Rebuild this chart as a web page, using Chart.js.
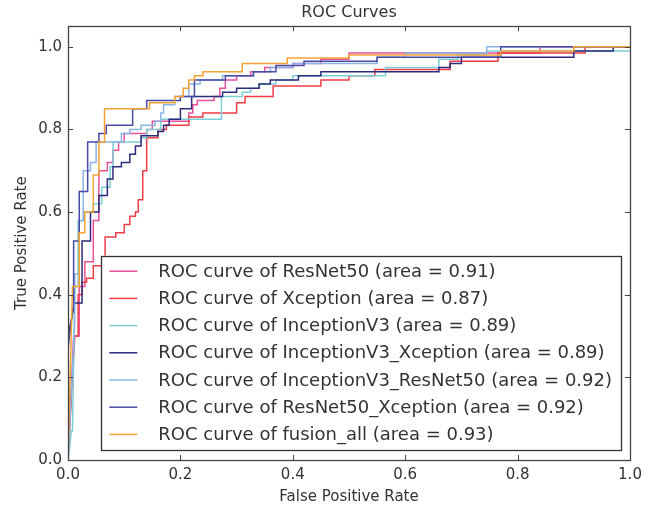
<!DOCTYPE html>
<html>
<head>
<meta charset="utf-8">
<script src="https://cdn.jsdelivr.net/npm/chart.js@4.4.1/dist/chart.umd.min.js"></script>
<style>
  html, body { margin: 0; padding: 0; background: #fff; }
  #wrap { width: 654px; height: 506px; }
</style>
</head>
<body>
<div id="wrap"><canvas id="rocChart" width="654" height="506"></canvas></div>
<script>
// tick labels
const xTicks = [0, 0.2, 0.4, 0.6, 0.8, 1.0];
const yTicks = [0, 0.2, 0.4, 0.6, 0.8, 1.0];

const modelNames = ["ResNet50", "Xception", "InceptionV3", "InceptionV3_Xception",
  "InceptionV3_ResNet50", "ResNet50_Xception", "fusion_all"];
const modelAreas = [0.91, 0.87, 0.89, 0.89, 0.92, 0.92, 0.93];

// ROC points (corners of the step curves)
const resnet50Fpr = [0,0.01,0.02,0.02,0.03,0.03,0.045,0.045,0.055,0.055,0.07,0.07,0.08,0.08,0.09,0.09,0.1,0.1,0.14,0.14,0.15,0.15,0.215,0.215,0.222,0.222,0.23,0.23,0.26,0.26,0.27,0.27,0.28,0.28,0.3,0.3,0.325,0.325,0.35,0.35,0.4,0.4,0.45,0.45,0.5,0.5,0.84,0.84,1];
const resnet50Tpr = [0,0.3,0.3,0.42,0.42,0.48,0.48,0.58,0.58,0.7,0.7,0.72,0.72,0.75,0.75,0.77,0.77,0.79,0.79,0.8,0.8,0.82,0.82,0.84,0.84,0.86,0.86,0.87,0.87,0.88,0.88,0.9,0.9,0.92,0.92,0.93,0.93,0.94,0.94,0.95,0.95,0.96,0.96,0.97,0.97,0.985,0.985,1,1];

const xceptionFpr = [0,0.012,0.018,0.018,0.025,0.025,0.033,0.033,0.045,0.045,0.066,0.066,0.085,0.085,0.1,0.1,0.11,0.11,0.12,0.12,0.125,0.125,0.133,0.133,0.14,0.14,0.16,0.16,0.175,0.175,0.215,0.215,0.24,0.24,0.3,0.3,0.315,0.315,0.365,0.365,0.45,0.45,0.5,0.5,0.546,0.546,0.68,0.68,0.765,0.765,0.92,0.92,1];
const xceptionTpr = [0,0.3,0.3,0.4,0.4,0.43,0.43,0.44,0.44,0.47,0.47,0.54,0.54,0.55,0.55,0.57,0.57,0.59,0.59,0.6,0.6,0.63,0.63,0.7,0.7,0.78,0.78,0.8,0.8,0.81,0.81,0.83,0.83,0.84,0.84,0.865,0.865,0.88,0.88,0.905,0.905,0.92,0.92,0.93,0.93,0.945,0.945,0.965,0.965,0.985,0.985,1,1];

const inceptionFpr = [0,0.006,0.008,0.012,0.018,0.018,0.028,0.028,0.045,0.045,0.06,0.06,0.075,0.075,0.08,0.08,0.13,0.13,0.14,0.14,0.165,0.165,0.273,0.273,0.31,0.31,0.325,0.325,0.34,0.34,0.37,0.37,0.4,0.4,0.565,0.565,0.66,0.66,0.694,0.694,0.745,0.745,1];
const inceptionTpr = [0,0.07,0.07,0.42,0.42,0.58,0.58,0.6,0.6,0.62,0.62,0.66,0.66,0.71,0.71,0.77,0.77,0.78,0.78,0.8,0.8,0.825,0.825,0.88,0.88,0.89,0.89,0.9,0.9,0.91,0.91,0.92,0.92,0.93,0.93,0.95,0.95,0.97,0.97,0.98,0.98,0.99,0.99];

const incXcepFpr = [0,0,0.012,0.025,0.025,0.04,0.04,0.055,0.055,0.07,0.07,0.08,0.08,0.095,0.095,0.11,0.11,0.12,0.12,0.13,0.13,0.16,0.16,0.17,0.17,0.18,0.18,0.2,0.2,0.22,0.22,0.275,0.275,0.3,0.3,0.34,0.34,0.36,0.36,0.41,0.41,0.45,0.45,0.66,0.66,0.68,0.68,0.7,0.7,0.9,0.9,0.97,0.97,1];
const incXcepTpr = [0,0.3,0.38,0.38,0.53,0.53,0.6,0.6,0.64,0.64,0.68,0.68,0.71,0.71,0.72,0.72,0.74,0.74,0.76,0.76,0.785,0.785,0.795,0.795,0.81,0.81,0.825,0.825,0.85,0.85,0.88,0.88,0.89,0.89,0.9,0.9,0.91,0.91,0.92,0.92,0.93,0.93,0.94,0.94,0.95,0.95,0.96,0.96,0.975,0.975,0.99,0.99,1,1];

const incResFpr = [0,0.012,0.012,0.02,0.02,0.027,0.027,0.04,0.04,0.05,0.05,0.095,0.095,0.11,0.11,0.13,0.13,0.155,0.155,0.165,0.165,0.17,0.17,0.19,0.19,0.215,0.215,0.235,0.235,0.275,0.275,0.33,0.33,0.36,0.36,0.4,0.4,0.55,0.55,0.6,0.6,0.745,0.745,1];
const incResTpr = [0,0.33,0.45,0.45,0.58,0.58,0.7,0.7,0.72,0.72,0.77,0.77,0.79,0.79,0.8,0.8,0.81,0.81,0.82,0.82,0.84,0.84,0.86,0.86,0.88,0.88,0.91,0.91,0.92,0.92,0.93,0.93,0.94,0.94,0.95,0.95,0.96,0.96,0.975,0.975,0.985,0.985,1,1];

const resXcepFpr = [0,0,0.01,0.01,0.02,0.02,0.035,0.035,0.055,0.055,0.068,0.068,0.115,0.115,0.14,0.14,0.2,0.2,0.225,0.225,0.28,0.28,0.33,0.33,0.37,0.37,0.42,0.42,0.55,0.55,0.77,0.77,1];
const resXcepTpr = [0,0.27,0.38,0.53,0.53,0.65,0.65,0.77,0.77,0.79,0.79,0.81,0.81,0.85,0.85,0.87,0.87,0.88,0.88,0.92,0.92,0.93,0.93,0.94,0.94,0.955,0.955,0.965,0.965,0.975,0.975,1,1];

const fusionFpr = [0,0.008,0.02,0.02,0.03,0.03,0.045,0.045,0.055,0.055,0.065,0.065,0.145,0.145,0.19,0.19,0.205,0.205,0.215,0.215,0.225,0.225,0.24,0.24,0.31,0.31,0.39,0.39,0.5,0.5,0.77,0.77,0.9,0.9,1];
const fusionTpr = [0,0.42,0.42,0.55,0.55,0.6,0.6,0.69,0.69,0.77,0.77,0.85,0.85,0.865,0.865,0.88,0.88,0.9,0.9,0.92,0.92,0.93,0.93,0.94,0.94,0.96,0.96,0.973,0.973,0.98,0.98,0.99,0.99,1,1];

const curveFpr = [resnet50Fpr, xceptionFpr, inceptionFpr, incXcepFpr, incResFpr, resXcepFpr, fusionFpr];
const curveTpr = [resnet50Tpr, xceptionTpr, inceptionTpr, incXcepTpr, incResTpr, resXcepTpr, fusionTpr];

const lineColors = ["#e8509a", "#f03c46", "#7ccfd6", "#2b2a7c", "#8ab4e6", "#4a4aa6", "#f4a234"];

const fontFamily = "'DejaVu Sans', 'Liberation Sans', sans-serif";
const textColor = "#333333";

function toPoints(fpr, tpr) {
  return fpr.map((x, i) => ({ x, y: tpr[i] }));
}

// frame + inward ticks on all four sides, like the matplotlib classic style
const framePlugin = {
  id: "frame",
  afterDraw(chart) {
    const { ctx, chartArea: a, scales } = chart;
    ctx.save();
    ctx.strokeStyle = "#444";
    ctx.lineWidth = 1;
    const len = 5;
    ctx.beginPath();
    xTicks.forEach((v) => {
      const px = Math.round(scales.x.getPixelForValue(v)) + 0.5;
      ctx.moveTo(px, a.bottom); ctx.lineTo(px, a.bottom - len);
      ctx.moveTo(px, a.top); ctx.lineTo(px, a.top + len);
    });
    yTicks.forEach((v) => {
      const py = Math.round(scales.y.getPixelForValue(v)) + 0.5;
      ctx.moveTo(a.left, py); ctx.lineTo(a.left + len, py);
      ctx.moveTo(a.right, py); ctx.lineTo(a.right - len, py);
    });
    ctx.stroke();
    ctx.lineWidth = 1.3;
    ctx.strokeRect(Math.round(a.left) + 0.5, Math.round(a.top) + 0.5,
      Math.round(a.right - a.left), Math.round(a.bottom - a.top));
    ctx.restore();
  },
};

// legend in the lower right corner of the axes
const rocLegendPlugin = {
  id: "rocLegend",
  afterDraw(chart) {
    const { ctx, chartArea: a } = chart;
    const sets = chart.data.datasets;
    ctx.save();
    ctx.font = "18px " + fontFamily;
    const textW = Math.max(...sets.map((d) => ctx.measureText(d.label).width));
    const rowH = 27.2;
    const boxW = 57 + textW + 9;
    const boxH = sets.length * rowH + 4;
    const right = a.right - 9;
    const bottom = a.bottom - 10;
    const left = right - boxW;
    const top = bottom - boxH;
    ctx.fillStyle = "#fff";
    ctx.fillRect(left, top, boxW, boxH);
    ctx.strokeStyle = "#333";
    ctx.lineWidth = 1.3;
    ctx.strokeRect(Math.round(left) + 0.5, Math.round(top) + 0.5, Math.round(boxW), Math.round(boxH));
    ctx.textBaseline = "middle";
    ctx.textAlign = "left";
    sets.forEach((d, i) => {
      const cy = top + 2 + rowH * (i + 0.5);
      ctx.strokeStyle = d.borderColor;
      ctx.lineWidth = 1.5;
      ctx.beginPath();
      ctx.moveTo(left + 8, cy);
      ctx.lineTo(left + 36, cy);
      ctx.stroke();
      ctx.fillStyle = textColor;
      ctx.fillText(d.label, left + 57, cy + 1);
    });
    ctx.restore();
  },
};

const datasets = modelNames.map((name, i) => ({
  label: `ROC curve of ${name} (area = ${modelAreas[i].toFixed(2)})`,
  data: toPoints(curveFpr[i], curveTpr[i]),
  borderColor: lineColors[i],
  backgroundColor: lineColors[i],
  borderWidth: 1.5,
  showLine: true,
  pointRadius: 0,
  tension: 0,
  fill: false,
  order: modelNames.length - i,
}));

new Chart(document.getElementById("rocChart").getContext("2d"), {
  type: "scatter",
  data: { datasets },
  options: {
    responsive: false,
    animation: false,
    layout: { padding: { left: 0, right: 24, top: 0, bottom: 0 } },
    plugins: {
      legend: { display: false },
      tooltip: { enabled: false },
      title: {
        display: true,
        text: "ROC Curves",
        fullSize: false,
        color: textColor,
        font: { family: fontFamily, size: 16, weight: "normal" },
        padding: { top: 3, bottom: 4 },
      },
    },
    scales: {
      x: {
        type: "linear",
        min: 0,
        max: 1,
        afterBuildTicks: (scale) => { scale.ticks = xTicks.map((v) => ({ value: v })); },
        afterFit: (scale) => { scale.height = 46; },
        grid: { display: false, drawTicks: false },
        border: { display: false },
        ticks: {
          color: textColor,
          padding: 6,
          maxRotation: 0,
          font: { family: fontFamily, size: 15 },
          callback: (v) => Number(v).toFixed(1),
        },
        title: {
          display: true,
          text: "False Positive Rate",
          color: textColor,
          font: { family: fontFamily, size: 15 },
          padding: { top: 3, bottom: 0 },
        },
      },
      y: {
        type: "linear",
        min: 0,
        max: 1.05,
        afterBuildTicks: (scale) => { scale.ticks = yTicks.map((v) => ({ value: v })); },
        afterFit: (scale) => { scale.width = 68; },
        grid: { display: false, drawTicks: false },
        border: { display: false },
        ticks: {
          color: textColor,
          padding: 6,
          font: { family: fontFamily, size: 15 },
          callback: (v) => Number(v).toFixed(1),
        },
        title: {
          display: true,
          text: "True Positive Rate",
          color: textColor,
          font: { family: fontFamily, size: 15 },
          padding: { top: 13, bottom: 0 },
        },
      },
    },
  },
  plugins: [framePlugin, rocLegendPlugin],
});
</script>
</body>
</html>
